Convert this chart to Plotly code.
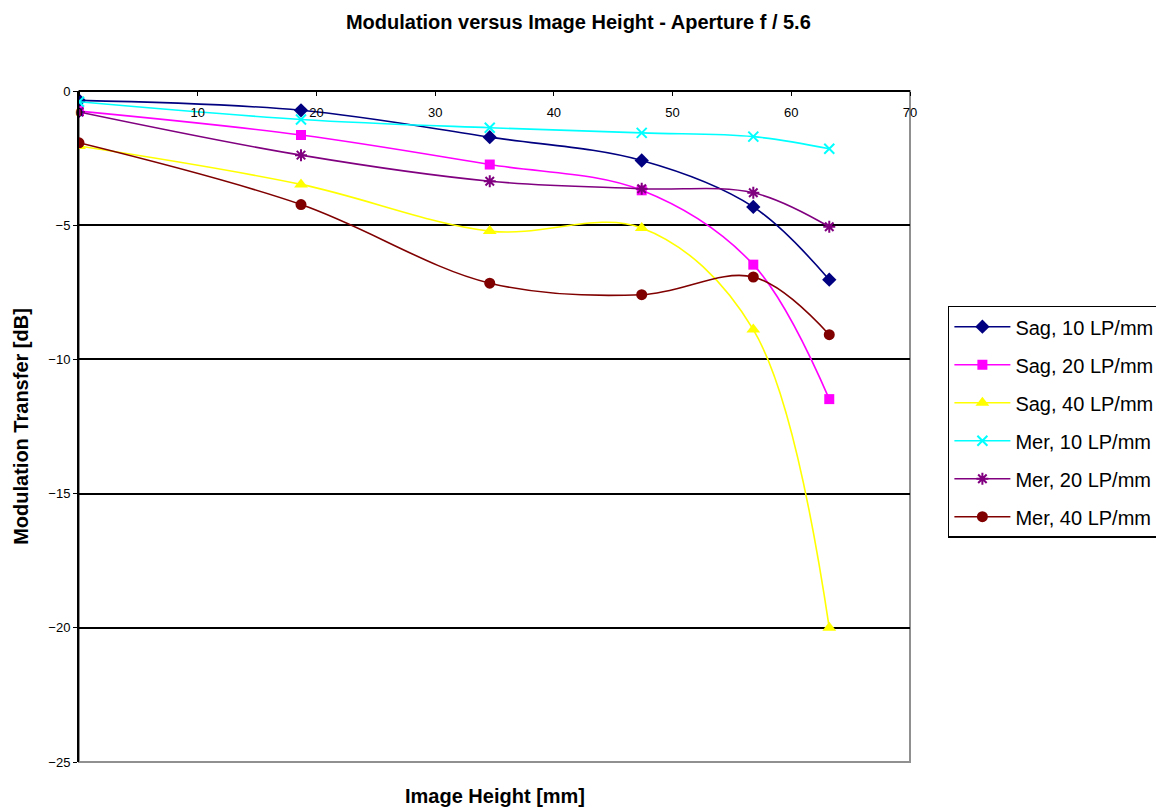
import plotly.graph_objects as go

image_height = [0, 18.7, 34.6, 47.4, 56.8, 63.2]

series_names = ["Sag, 10 LP/mm", "Sag, 20 LP/mm", "Sag, 40 LP/mm",
                "Mer, 10 LP/mm", "Mer, 20 LP/mm", "Mer, 40 LP/mm"]

sag_10 = [-0.35, -0.72, -1.72, -2.59, -4.32, -7.03]
sag_20 = [-0.75, -1.64, -2.74, -3.70, -6.47, -11.48]
sag_40 = [-2.05, -3.48, -5.22, -5.10, -8.89, -20.0]
mer_10 = [-0.40, -1.06, -1.37, -1.56, -1.70, -2.15]
mer_20 = [-0.78, -2.39, -3.36, -3.64, -3.79, -5.06]
mer_40 = [-1.93, -4.23, -7.16, -7.59, -6.93, -9.08]

series_values = [sag_10, sag_20, sag_40, mer_10, mer_20, mer_40]
colors = ["#000080", "#FF00FF", "#FFFF00", "#00FFFF", "#800080", "#800000"]
symbols = ["diamond", "square", "triangle-up", "x-thin-open", "asterisk-open", "circle"]
sizes = [11, 10, 12, 10, 10, 11]

fig = go.Figure()
for i, (name, vals) in enumerate(zip(series_names, series_values)):
    open_sym = symbols[i].endswith("open")
    fig.add_trace(go.Scatter(
        x=image_height, y=vals, name=name, mode="lines+markers",
        line=dict(color=colors[i], width=1.6, shape="spline", smoothing=1.0),
        marker=dict(symbol=symbols[i], size=sizes[i], color=colors[i],
                    line=dict(color=colors[i], width=2 if open_sym else 0)),
        legendgroup=f"g{i}",
    ))

fig.update_layout(
    width=1164, height=807,
    margin=dict(l=69, r=261, t=83, b=53),
    paper_bgcolor="white", plot_bgcolor="white",
    font=dict(family="Arial, Liberation Sans, sans-serif", color="black"),
    title=dict(text="<b>Modulation versus Image Height - Aperture f / 5.6</b>",
               x=0.49, xanchor="center", y=0.983, yanchor="middle",
               font=dict(size=20)),
    showlegend=True,
    legend=dict(x=1.0456, xanchor="left", y=0.68, yanchor="top",
                bordercolor="black", borderwidth=1.5,
                font=dict(size=20), tracegroupgap=9,
                itemwidth=56),
    xaxis=dict(range=[0, 70], dtick=10, anchor="free", position=1, side="bottom",
               ticks="outside", ticklen=4, tickcolor="black", ticklabelstandoff=5,
               showline=True, linecolor="black", linewidth=2,
               showgrid=False, zeroline=False,
               tickfont=dict(size=13)),
    yaxis=dict(range=[-25, 0], dtick=5, ticks="outside", ticklen=4,
               tickcolor="black", showline=True, linecolor="black", linewidth=2,
               showgrid=True, gridcolor="black", gridwidth=1.5, zeroline=False,
               tickfont=dict(size=13),
               title=dict(text="<b>Modulation Transfer [dB]</b>", font=dict(size=20),
                          standoff=14)),
    shapes=[dict(type="rect", xref="paper", yref="paper", x0=0, x1=1, y0=0, y1=1,
                 line=dict(color="#909090", width=2), layer="below")],
    annotations=[dict(text="<b>Image Height [mm]</b>", xref="paper", yref="paper",
                      x=0.5, y=-0.0507, xanchor="center", yanchor="middle",
                      showarrow=False, font=dict(size=20))],
)

fig.write_html("out.html")
